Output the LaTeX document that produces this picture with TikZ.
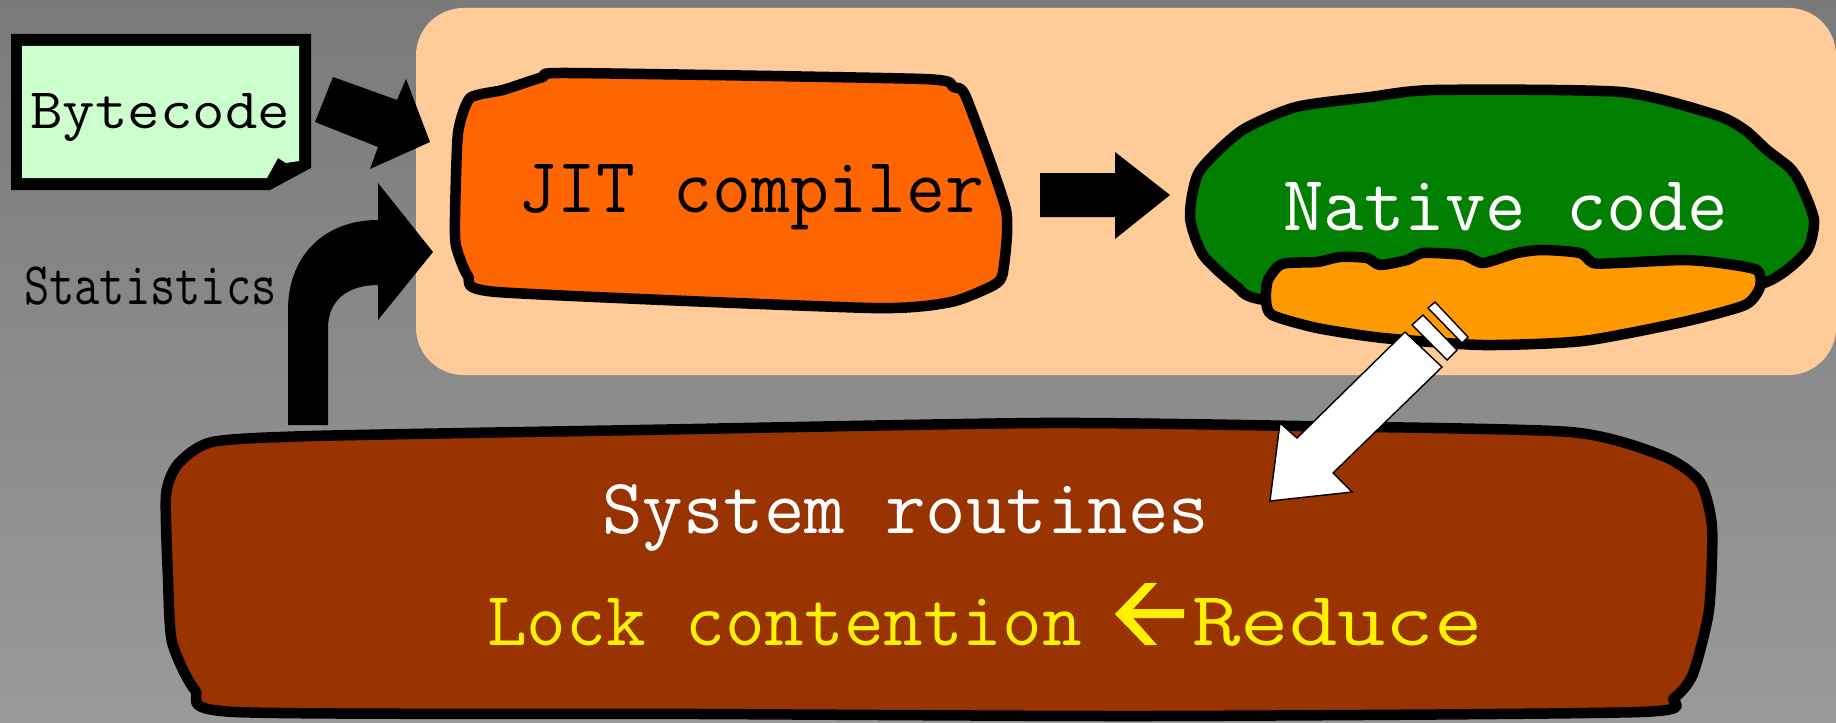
\documentclass[tikz,border=0pt]{standalone}
\usepackage{fontspec}
\usepackage{graphicx}
\usetikzlibrary{calc,positioning}
\definecolor{bgtop}{HTML}{7A7A7A}
\definecolor{bgbot}{HTML}{9A9A9A}
\definecolor{peach}{HTML}{FFCC99}
\definecolor{jitorange}{HTML}{FF6600}
\definecolor{nativegreen}{HTML}{007F00}
\definecolor{hotorange}{HTML}{FF9900}
\definecolor{sysbrown}{HTML}{993300}
\definecolor{bcgreen}{HTML}{CCFFCC}
\begin{document}
\begin{tikzpicture}[x=0.02cm,y=-0.02cm,
  blob/.style={draw=black,line width=0.21cm,line join=round},
  lbl/.style={inner sep=0pt,anchor=base west},
  hollow/.style={fill=white,draw=black,line width=0.8pt,line join=miter}]
\useasboundingbox (0,0) rectangle (1836,723);
\shade[top color=bgtop,bottom color=bgbot](0,0) rectangle (1836,723);
\fill[peach,rounded corners=0.95cm](416,8) rectangle (1836,375);
% bytecode card
\fill(11,34)--(311,34)--(311,168)--(270,190)--(11,190)--cycle;
\fill[bcgreen](22,46)--(299,46)--(299,161)--(286,163)--(278,158)--(267,178)--(22,178)--cycle;
% black block arrows
\fill(333,77)--(397,100)--(406,79)--(430,142)--(370,169)--(378,147)--(315,122)--cycle;
\fill(288,425)--(288,310).. controls (288,255) and (325,220) ..(378,220)--(378,183)--(433,252)--(378,320)--(378,285)
  .. controls (348,285) and (328,300) ..(328,328)--(328,425)--cycle;
% blobs
\draw[blob,fill=jitorange]plot[smooth cycle,tension=0.35]coordinates{(470,98)(503,90)(543,77)(568,73)(923,79)(953,87)(966,97)
  (1006,210)(1003,272)(994,285)(951,302)(871,308)(497,292)(468,276)(456,246)(455,217)(458,133)};
\fill(1040,173)--(1115,173)--(1115,152)--(1170,195)--(1115,239)--(1115,217)--(1040,217)--cycle;
\draw[blob,fill=nativegreen]plot[smooth cycle,tension=0.4]coordinates{(1190,217)(1199,172)(1241,131)(1296,107)(1370,97)(1434,90)
  (1621,92)(1716,115)(1745,130)(1767,150)(1790,168)(1801,185)(1814,220)(1806,252)(1764,283)(1650,305)(1450,315)(1265,300)
  (1236,286)(1203,255)};
\draw[blob,fill=hotorange]plot[smooth cycle,tension=0.4]coordinates{(1268,280)(1282,264)(1317,262)(1340,257)(1367,258)(1380,265)
  (1407,260)(1423,253)(1463,255)(1483,263)(1517,253)(1543,250)(1580,253)(1593,263)(1617,263)(1683,260)(1720,263)(1757,270)
  (1760,287)(1745,305)(1683,322)(1583,341)(1483,345)(1383,338)(1317,328)(1272,315)(1266,300)};
\draw[blob,fill=sysbrown]plot[smooth cycle,tension=0.4]coordinates{(212,442)(178,464)(166,495)(168,578)(172,642)(195,690)(235,712)
  (700,714)(1150,716)(1640,712)(1674,698)(1693,674)(1709,610)(1712,527)(1700,482)(1663,456)(1570,432)(1300,426)(1040,423)
  (640,430)(312,436)};
% white arrow
\filldraw[hollow](1405,332)--(1442,367)--(1333,473)--(1352,492)--(1270,501)--(1280,423)--(1297,438)--cycle;
\filldraw[hollow](1412,325)--(1423,315)--(1457,350)--(1447,360)--cycle;
\filldraw[hollow](1428,308)--(1435,302)--(1468,337)--(1462,343)--cycle;
% labels
\node[lbl,font=\ttfamily\fontsize{32.6}{34}\selectfont](bytecode) at (30,129){\scalebox{1.1}[1]{Bytecode}};
\node[lbl,font=\ttfamily\fontsize{34.4}{36}\selectfont](stats) at (24,304){\scalebox{0.81}[1]{Statistics}};
\node[lbl,font=\ttfamily\fontsize{44.7}{46}\selectfont](jit) at (518,213){\scalebox{0.96}[1]{JIT compiler}};
\node[lbl,white,font=\ttfamily\fontsize{44.7}{46}\selectfont](native) at (1283,230){Native code};
\node[lbl,white,font=\ttfamily\fontsize{44.7}{46}\selectfont](sysrt) at (602,533){System routines};
\node[lbl,yellow,font=\ttfamily\fontsize{43.8}{45}\selectfont](lock) at (487,645){Lock contention};
\node[lbl,yellow,font=\ttfamily\fontsize{43.8}{45}\selectfont](reduce) at (1192,645){\scalebox{1.22}[1]{Reduce}};
\fill[yellow](1115,614)--(1145,583)--(1157,583)--(1133,609)--(1184,609)--(1184,618)--(1133,618)--(1157,645)--(1145,645)--cycle;
\end{tikzpicture}
\end{document}
